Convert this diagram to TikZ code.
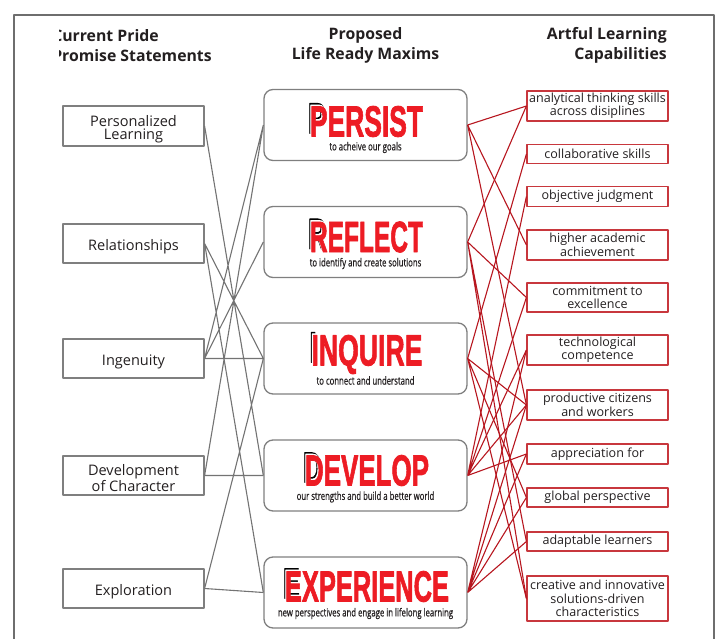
\documentclass[tikz,border=0pt]{standalone}
\usepackage{fontspec}
\usepackage{graphicx}
\setmainfont{Open Sans}
\newfontfamily\maximfont{Liberation Sans}[FakeBold=2]
\newfontfamily\tagfont{Open Sans}[FakeStretch=0.70,FakeBold=0.6]
\usetikzlibrary{positioning}

\newlength\pxu
\setlength\pxu{0.75pt}

\definecolor{framegray}{HTML}{6E6E6E}
\definecolor{boxgray}{HTML}{7F7F7F}
\definecolor{tiegray}{HTML}{737373}
\definecolor{capred}{HTML}{C8373D}
\definecolor{tiered}{HTML}{B7161F}
\definecolor{maximred}{HTML}{ED1C24}
\definecolor{inkblack}{HTML}{231F20}

\newcommand\pledgefont{\fontsize{10.9pt}{9.8pt}\selectfont}
\newcommand\capfont{\fontsize{9.4pt}{10.1pt}\selectfont}
\newcommand\headfont{\fontsize{11.85pt}{15pt}\selectfont\bfseries}
\newcommand\taglinefont{\tagfont\fontsize{8.3pt}{9pt}\selectfont}
% width, first letter, rest of the word
\newcommand\maximword[3]{%
  \resizebox{#1\pxu}{30.5\pxu}{\maximfont\bfseries
    \rlap{\smash{\raisebox{0.07em}{\kern-0.08em\color{black}#2}}}%
    \rlap{\smash{\raisebox{0.035em}{\kern-0.04em\color{white}#2}}}%
    \textcolor{maximred}{#2#3}}}

\tikzset{%
      pledge/.style = { draw=boxgray, line width=1.2\pxu, minimum width=141\pxu, minimum height=39\pxu, inner sep=0pt },
   pledgetext/.style = { inner sep=0pt, align=center, text=inkblack, font=\pledgefont },
       maxim/.style = { draw=boxgray, line width=1.3\pxu, rounded corners=9\pxu, minimum width=203\pxu, minimum height=71\pxu, inner sep=0pt },
  maximtitle/.style = { inner sep=0pt },
     tagline/.style = { inner sep=0pt, text=inkblack, font=\taglinefont },
     capable/.style = { draw=capred, line width=1.2\pxu, minimum width=141\pxu, inner sep=0pt, align=center, text=inkblack, font=\capfont },
     heading/.style = { inner sep=0pt, text=inkblack, font=\headfont },
         tie/.style = { tiegray, line width=1.1\pxu },
      redtie/.style = { tiered, line width=1.1\pxu }
}

\begin{document}
\begin{tikzpicture}[x=0.75pt,y=-0.75pt,line join=round]
\useasboundingbox (0,0) rectangle (718,639);
\draw[framegray, line width=1.6\pxu] (14,15) rectangle (714,700);

% column headings
\begin{scope}
\clip (59,0) rectangle (300,100);
\node[heading, anchor=west, align=left] (pridehead) at (52,45.5) {Current Pride\\Promise Statements};
\end{scope}
\node[heading, align=center] (maximhead) at (365.5,45.5) {Proposed\\Life Ready Maxims};
\node[heading, anchor=east, align=right] (capahead) at (667,45.5) {Artful Learning\\Capabilities};

% promise statements
\node[pledge, minimum height=40\pxu] (personal) at (133.5,126) {};
\node[pledgetext] (personalt) at (133.5,129.5) {Personalized\\Learning};
\node[pledge] (relation) at (133.5,243.5) {};
\node[pledgetext] (relationt) at (133.5,246.5) {Relationships};
\node[pledge] (ingenuity) at (133.5,358.5) {};
\node[pledgetext] (ingenuityt) at (133.5,362) {Ingenuity};
\node[pledge] (character) at (133.5,475.5) {};
\node[pledgetext] (charactert) at (133.5,478.5) {Development\\of Character};
\node[pledge] (explore) at (133.5,588.5) {};
\node[pledgetext] (exploret) at (133.5,591.5) {Exploration};

% maxims
\node[maxim] (persist) at (365.5,125) {};
\node[maximtitle] (persistw) at (366.5,121.5) {\maximword{113}{P}{ERSIST}};
\node[tagline] (persistt) at (365.5,147.5) {to acheive our goals};

\node[maxim] (reflect) at (365.5,242) {};
\node[maximtitle] (reflectw) at (366.5,237) {\maximword{113}{R}{EFLECT}};
\node[tagline] (reflectt) at (365.5,263.5) {to identify and create solutions};

\node[maxim] (inquire) at (365.5,358.5) {};
\node[maximtitle] (inquirew) at (367,354.5) {\maximword{111}{I}{NQUIRE}};
\node[tagline] (inquiret) at (365.5,380.5) {to connect and understand};

\node[maxim] (develop) at (365.5,475.5) {};
\node[maximtitle] (developw) at (367,470.5) {\maximword{124}{D}{EVELOP}};
\node[tagline] (developt) at (365.5,497) {our strengths and build a better world};

\node[maxim] (experience) at (365.5,592.5) {};
\node[maximtitle] (experiencew) at (367,586.5) {\maximword{164}{E}{XPERIENCE}};
\node[tagline] (experiencet) at (365.5,613.5) {new perspectives and engage in lifelong learning};

% capabilities
\node[capable, minimum height=30\pxu] (analytic) at (597.5,106) {analytical thinking skills\\across disiplines};
\node[capable, minimum height=19\pxu] (collab) at (597.5,154) {collaborative skills};
\node[capable, minimum height=20\pxu] (judgment) at (597.5,196.5) {objective judgment};
\node[capable, minimum height=30\pxu] (academic) at (597.5,245) {higher academic\\achievement};
\node[capable, minimum height=29\pxu] (commit) at (597.5,297.5) {commitment to\\excellence};
\node[capable, minimum height=30\pxu] (techno) at (597.5,350) {technological\\competence};
\node[capable, minimum height=30\pxu] (citizens) at (597.5,405) {productive citizens\\and workers};
\node[capable, minimum height=20\pxu] (apprec) at (597.5,454) {appreciation for};
\node[capable, minimum height=19\pxu] (global) at (597.5,497.5) {global perspective};
\node[capable, minimum height=19\pxu] (adapt) at (597.5,541.5) {adaptable learners};
\node[capable, minimum height=45\pxu] (creative) at (597.5,598.5) {creative and innovative\\solutions-driven\\characteristics};

% statements to maxims
\draw[tie] (personal.east) -- (develop.west)
           (relation.east) -- (inquire.west) (relation.east) -- (experience.west)
           (ingenuity.east) -- (persist.west) (ingenuity.east) -- (reflect.west) (ingenuity.east) -- (inquire.west)
           (character.east) -- (persist.west) (character.east) -- (develop.west)
           (explore.east) -- (inquire.west) (explore.east) -- (experience.west);

% maxims to capabilities
\draw[redtie] (persist.east) -- (analytic.west) (persist.east) -- (academic.west) (persist.east) -- (citizens.west);
\draw[redtie] (reflect.east) -- (analytic.west) (reflect.east) -- (commit.west) (reflect.east) -- (adapt.west) (reflect.east) -- (creative.west);
\draw[redtie] (inquire.east) -- (collab.west) (inquire.east) -- (citizens.west) (inquire.east) -- (global.west) (inquire.east) -- (creative.west);
\draw[redtie] (develop.east) -- (judgment.west) (develop.east) -- (commit.west) (develop.east) -- (techno.west) (develop.east) -- (citizens.west) (develop.east) -- (apprec.west);
\draw[redtie] (experience.east) -- (techno.west) (experience.east) -- (citizens.west) (experience.east) -- (apprec.west) (experience.east) -- (global.west) (experience.east) -- (adapt.west);
\end{tikzpicture}
\end{document}
